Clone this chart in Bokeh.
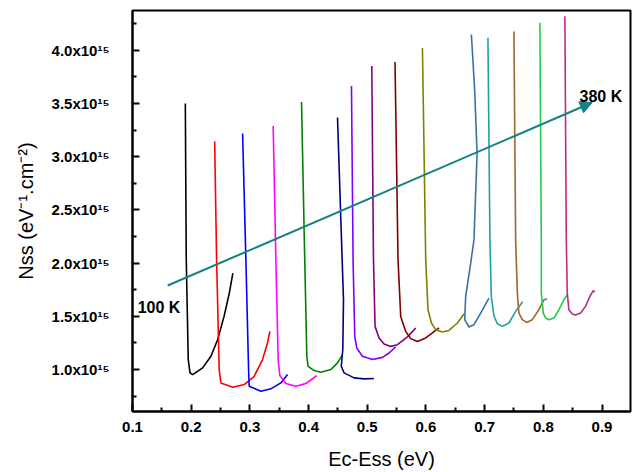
from bokeh.plotting import figure
from bokeh.models import FixedTicker, Arrow, NormalHead, Label
from bokeh.embed import file_html
from bokeh.resources import INLINE

# ---- data (Nss in units of 1e15 eV^-1 cm^-2) ----
temps = [100, 120, 140, 160, 180, 200, 220, 240, 260, 280, 300, 320, 340, 360, 380]

E_100 = [0.190, 0.1916, 0.195, 0.198, 0.2025, 0.2195, 0.2336, 0.245, 0.256, 0.265, 0.271]
N_100 = [3.50, 2.03, 1.094, 0.969, 0.953, 1.016, 1.125, 1.281, 1.50, 1.72, 1.906]

E_120 = [0.240, 0.2433, 0.2477, 0.2506, 0.2706, 0.2903, 0.3073, 0.3216, 0.330, 0.334]
N_120 = [3.147, 2.031, 1.0, 0.875, 0.834, 0.859, 0.937, 1.094, 1.25, 1.359]

E_140 = [0.2876, 0.2932, 0.2978, 0.2988, 0.3187, 0.3357, 0.3528, 0.3642]
N_140 = [3.219, 2.031, 1.0, 0.843, 0.797, 0.819, 0.875, 0.953]

E_160 = [0.3397, 0.3443, 0.3482, 0.351, 0.3613, 0.3783, 0.3953, 0.414]
N_160 = [3.29, 2.031, 1.094, 0.944, 0.869, 0.844, 0.869, 0.944]

E_180 = [0.388, 0.3924, 0.397, 0.3992, 0.4094, 0.4209, 0.4379, 0.4493, 0.4578]
N_180 = [3.515, 2.312, 1.125, 1.031, 0.991, 0.975, 1.0, 1.063, 1.141]

E_200 = [0.4493, 0.4561, 0.4595, 0.4583, 0.4557, 0.4605, 0.4775, 0.4946, 0.5116]
N_200 = [3.369, 2.219, 1.656, 1.1875, 1.031, 0.969, 0.922, 0.913, 0.916]

E_220 = [0.4731, 0.4758, 0.4787, 0.4821, 0.4918, 0.5089, 0.5259, 0.5371, 0.5485]
N_220 = [3.666, 2.031, 1.312, 1.203, 1.125, 1.094, 1.115, 1.156, 1.213]

E_240 = [0.5077, 0.5106, 0.5133, 0.5201, 0.5286, 0.540, 0.5514, 0.5684, 0.5826]
N_240 = [3.853, 2.031, 1.406, 1.297, 1.241, 1.218, 1.234, 1.307, 1.391]

E_260 = [0.5473, 0.5524, 0.557, 0.5655, 0.574, 0.5854, 0.5996, 0.611, 0.6222]
N_260 = [3.89, 2.031, 1.50, 1.359, 1.291, 1.265, 1.297, 1.344, 1.391]

E_280 = [0.594, 0.5996, 0.6035, 0.6093, 0.6166, 0.628, 0.6392, 0.6535, 0.6648]
N_280 = [4.022, 2.031, 1.5625, 1.438, 1.375, 1.353, 1.368, 1.438, 1.522]

E_300 = [0.6774, 0.683, 0.6871, 0.6818, 0.6762, 0.6677, 0.666, 0.6733, 0.6818, 0.6932, 0.7073]
N_300 = [4.15, 3.625, 3.031, 2.219, 2.0, 1.687, 1.469, 1.40, 1.422, 1.531, 1.672]

E_320 = [0.7056, 0.709, 0.7114, 0.7158, 0.7216, 0.7301, 0.7414, 0.7528, 0.7647]
N_320 = [4.119, 2.219, 1.687, 1.506, 1.431, 1.406, 1.438, 1.547, 1.6375]

E_340 = [0.7499, 0.7528, 0.7557, 0.7584, 0.7642, 0.7715, 0.7812, 0.7924, 0.801, 0.8067]
N_340 = [4.178, 2.219, 1.719, 1.531, 1.469, 1.443, 1.469, 1.5625, 1.656, 1.663]

E_360 = [0.7941, 0.7965, 0.7965, 0.7999, 0.8038, 0.8094, 0.818, 0.8265, 0.835, 0.8408]
N_360 = [4.26, 2.219, 1.719, 1.531, 1.484, 1.469, 1.484, 1.5625, 1.656, 1.703]

E_380 = [0.8367, 0.8391, 0.8408, 0.8435, 0.8493, 0.8549, 0.8634, 0.8719, 0.8792, 0.885, 0.8877]
N_380 = [4.32, 2.219, 1.719, 1.5625, 1.522, 1.513, 1.531, 1.594, 1.687, 1.743, 1.728]

E_curves = [E_100, E_120, E_140, E_160, E_180, E_200, E_220, E_240,
            E_260, E_280, E_300, E_320, E_340, E_360, E_380]
N_curves = [N_100, N_120, N_140, N_160, N_180, N_200, N_220, N_240,
            N_260, N_280, N_300, N_320, N_340, N_360, N_380]

x_ticks = [0.1, 0.2, 0.3, 0.4, 0.5, 0.6, 0.7, 0.8, 0.9]
x_minor = [0.15, 0.25, 0.35, 0.45, 0.55, 0.65, 0.75, 0.85]
y_ticks = [1.0, 1.5, 2.0, 2.5, 3.0, 3.5, 4.0]
y_minor = [0.75, 1.25, 1.75, 2.25, 2.75, 3.25, 3.75, 4.25]
y_tick_labels = ["1.0x10\u00b9\u2075", "1.5x10\u00b9\u2075", "2.0x10\u00b9\u2075", "2.5x10\u00b9\u2075",
                 "3.0x10\u00b9\u2075", "3.5x10\u00b9\u2075", "4.0x10\u00b9\u2075"]

arrow_E = [0.160, 0.8833]
arrow_N = [1.79, 3.51]
label_low = "100 K"
label_high = "380 K"
label_low_pos = (0.1089, 1.588)
label_high_pos = (0.8617, 3.562)

# ---- style ----
colors = ["#000000", "#FF0000", "#0000FF", "#FF00FF", "#008000", "#000080", "#8000FF",
          "#800080", "#800000", "#808000", "#3A70A8", "#20A0A0", "#A0662A", "#22CC44", "#C02888"]
teal = "#148282"
FONT = "Liberation Sans"

p = figure(width=633, height=472, x_range=(0.1, 0.9485), y_range=(0.606, 4.375),
           output_backend="svg", toolbar_location=None,
           min_border_left=132, min_border_right=3, min_border_top=10, min_border_bottom=60)
p.xgrid.visible = False
p.ygrid.visible = False
p.outline_line_color = "black"
p.outline_line_width = 2
p.outline_line_alpha = 1

for E, N, c in zip(E_curves, N_curves, colors):
    p.line(E, N, line_color=c, line_width=1.6)

p.add_layout(Arrow(end=NormalHead(size=12, fill_color=teal, line_color=teal),
                   x_start=arrow_E[0], y_start=arrow_N[0], x_end=arrow_E[1], y_end=arrow_N[1],
                   line_color=teal, line_width=2))

for txt, (lx, ly) in [(label_low, label_low_pos), (label_high, label_high_pos)]:
    p.add_layout(Label(x=lx, y=ly, text=txt, text_font=FONT, text_font_size="16px",
                       text_font_style="bold", text_color="black", text_baseline="alphabetic"))

p.xaxis.ticker = FixedTicker(ticks=x_ticks, minor_ticks=x_minor)
p.yaxis.ticker = FixedTicker(ticks=y_ticks, minor_ticks=y_minor)
p.yaxis.major_label_overrides = {t: l for t, l in zip(y_ticks, y_tick_labels)}
p.xaxis.major_label_overrides = {t: "%.1f" % t for t in x_ticks}

for ax in (p.xaxis[0], p.yaxis[0]):
    ax.axis_line_width = 2
    ax.axis_line_color = "black"
    ax.major_tick_line_width = 2
    ax.minor_tick_line_width = 2
    ax.major_tick_in = 7
    ax.major_tick_out = 0
    ax.minor_tick_in = 4
    ax.minor_tick_out = 0
    ax.major_label_text_font = FONT
    ax.major_label_text_font_style = "bold"
    ax.major_label_text_font_size = "15px"
    ax.major_label_text_color = "black"
    ax.axis_label_text_font = FONT
    ax.axis_label_text_font_style = "normal"
    ax.axis_label_text_font_size = "20px"
    ax.axis_label_text_color = "black"

p.xaxis.axis_label = "Ec-Ess (eV)"
p.yaxis.axis_label = "Nss (eV\u207b\u00b9.cm\u207b\u00b2)"
p.xaxis.major_label_standoff = 10
p.xaxis.axis_label_standoff = 13
p.yaxis.major_label_standoff = 23
p.yaxis.axis_label_standoff = 12

open("out.html", "w").write(file_html(p, INLINE))
